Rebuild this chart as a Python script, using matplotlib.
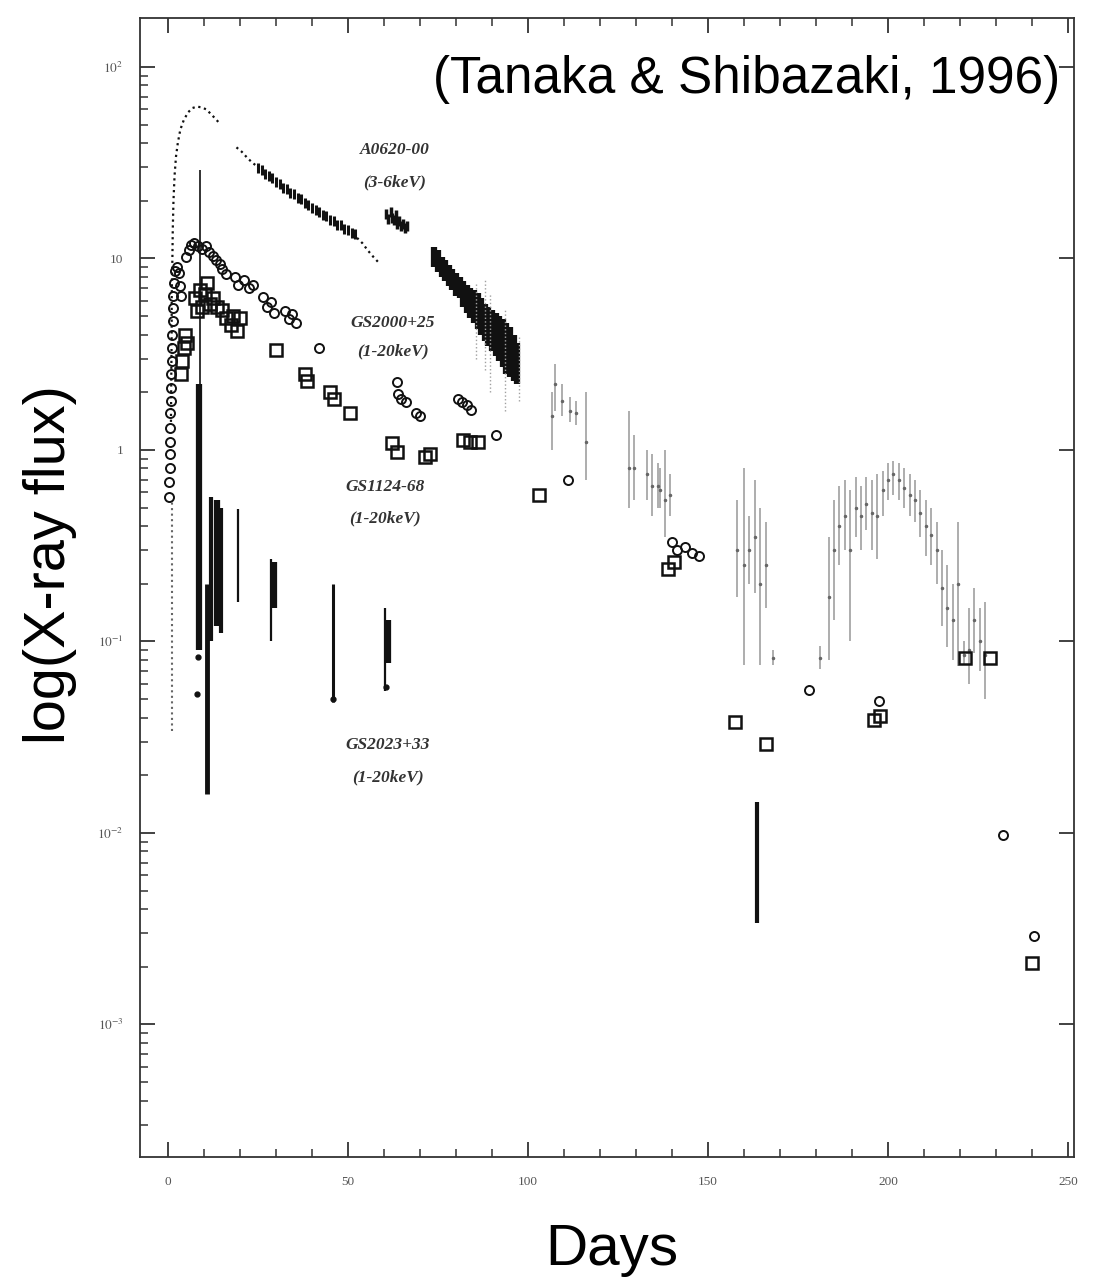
import numpy as np
import matplotlib
matplotlib.use("Agg")
import matplotlib.pyplot as plt
from matplotlib.ticker import FixedLocator, FixedFormatter, LogLocator, NullFormatter, MultipleLocator

plt.rcParams["mathtext.fontset"] = "stix"

# ---- A0620-00 (3-6 keV) ----
a0620_rise_day = [0.8, 0.9, 1.0, 1.0, 1.1, 1.2, 1.3, 1.5, 1.8, 2.2, 2.7, 3.4, 4.4, 5.6, 6.8, 8.0, 9.3, 10.6, 11.8, 13.0, 14.2]
a0620_rise_flux = [1.4, 2.5, 4.0, 6.0, 8.0, 10.0, 14.0, 20.0, 27.0, 34.0, 40.0, 47.0, 53.0, 58.0, 61.0, 62.0, 61.5, 60.0, 57.0, 54.0, 51.0]
a0620_tail_day = [19.0, 20.5, 22.0, 23.5, 25.0]
a0620_tail_flux = [38.0, 36.0, 33.5, 31.5, 30.0]
a0620_fade_day = [52.5, 54.0, 55.5, 57.0, 58.3]
a0620_fade_flux = [12.8, 12.0, 11.0, 10.2, 9.6]
a0620_day = [25, 26, 27, 28, 29, 30, 31, 32, 33, 34, 35, 36, 37, 38, 39, 40, 41, 42, 43, 44,
             45, 46, 47, 48, 49, 50, 51, 52]
a0620_flux = [29.5, 29.0, 27.6, 27.0, 26.2, 25.0, 24.6, 23.4, 23.0, 22.0, 21.6, 20.6, 20.3, 19.4,
              19.0, 18.4, 17.8, 17.5, 16.8, 16.6, 15.9, 15.6, 15.0, 14.9, 14.3, 14.1, 13.6, 13.4]
a0620_bump_day = [60.5, 61.2, 61.8, 62.3, 62.8, 63.2, 63.7, 64.2, 64.7, 65.2, 65.8, 66.3]
a0620_bump_flux = [17.0, 16.0, 17.5, 16.2, 15.8, 16.8, 15.2, 15.6, 14.8, 15.1, 14.4, 14.8]
# decay clump after day 73: columns of measurements (low, high)
a0620_clump_day = [74, 75, 76, 77, 78, 79, 80, 81, 82, 83, 84, 85, 86, 87, 88, 89, 90, 91, 92, 93, 94, 95, 96, 97]
a0620_clump_lo = [9.0, 8.5, 8.0, 7.6, 7.2, 6.8, 6.4, 6.2, 5.6, 5.2, 4.9, 4.6, 4.3, 4.0, 3.7, 3.5, 3.3, 3.1,
                  2.9, 2.7, 2.5, 2.4, 2.3, 2.2]
a0620_clump_hi = [11.5, 11.0, 10.2, 9.8, 9.2, 8.8, 8.4, 8.0, 7.6, 7.3, 7.0, 6.8, 6.6, 6.2, 5.8, 5.6, 5.4, 5.2,
                  5.0, 4.8, 4.6, 4.4, 4.0, 3.6]
a0620_stray_day = [85.5, 88.0, 89.5, 93.5, 97.5]
a0620_stray_lo = [3.0, 2.6, 2.0, 1.6, 1.8]
a0620_stray_hi = [7.5, 7.7, 6.5, 5.5, 4.0]
# later, sparser coverage
late_day = [106.7, 107.5, 109.4, 111.7, 113.3, 116.0, 128.0, 129.5, 133.0, 134.5, 136.0, 136.7, 138.0, 139.5,
            158.0, 160.0, 161.5, 163.0, 164.5, 166.0, 168.0, 181.0, 183.5, 185.0, 186.5, 188.0, 189.5,
            191.0, 192.5, 194.0, 195.5, 197.0, 198.5, 200.0, 201.5, 203.0, 204.5, 206.0, 207.5, 209.0,
            210.5, 212.0, 213.5, 215.0, 216.5, 218.0, 219.5, 221.0, 222.5, 224.0, 225.5, 227.0]
late_lo = [1.0, 1.6, 1.5, 1.4, 1.35, 0.7, 0.5, 0.55, 0.55, 0.45, 0.5, 0.5, 0.35, 0.45,
           0.17, 0.075, 0.2, 0.18, 0.075, 0.15, 0.075, 0.072, 0.08, 0.13, 0.25, 0.3, 0.1,
           0.35, 0.3, 0.38, 0.3, 0.27, 0.45, 0.55, 0.58, 0.55, 0.5, 0.45, 0.42, 0.35,
           0.28, 0.25, 0.2, 0.12, 0.094, 0.08, 0.074, 0.075, 0.06, 0.087, 0.07, 0.05]
late_hi = [2.0, 2.8, 2.2, 1.9, 1.8, 2.0, 1.6, 1.2, 1.0, 0.95, 0.85, 0.8, 1.0, 0.75,
           0.55, 0.8, 0.45, 0.7, 0.5, 0.42, 0.09, 0.095, 0.35, 0.55, 0.65, 0.7, 0.62,
           0.72, 0.65, 0.72, 0.7, 0.75, 0.78, 0.85, 0.88, 0.85, 0.8, 0.75, 0.7, 0.62,
           0.55, 0.5, 0.42, 0.3, 0.25, 0.2, 0.42, 0.1, 0.15, 0.19, 0.15, 0.16]
late_mid = [1.5, 2.2, 1.8, 1.6, 1.55, 1.1, 0.8, 0.8, 0.75, 0.65, 0.65, 0.62, 0.55, 0.58,
            0.3, 0.25, 0.3, 0.35, 0.2, 0.25, 0.082, 0.082, 0.17, 0.3, 0.4, 0.45, 0.3,
            0.5, 0.45, 0.52, 0.47, 0.45, 0.62, 0.7, 0.75, 0.7, 0.63, 0.58, 0.55, 0.47,
            0.4, 0.36, 0.3, 0.19, 0.15, 0.13, 0.2, 0.085, 0.09, 0.13, 0.1, 0.085]

# ---- GS2000+25 (1-20 keV), open circles ----
gs2000_day = [0.3, 0.35, 0.4, 0.45, 0.5, 0.55, 0.6, 0.7, 0.8, 0.9, 1.0, 1.1, 1.2, 1.3, 1.4, 1.5, 1.6,
              1.8, 2.4, 3.0, 3.2, 3.5,
              5.0, 5.8, 6.5, 7.3, 8.3, 9.3, 10.5, 11.5, 12.5, 13.4, 14.3, 15.1, 16.0,
              18.5, 19.5, 21.0, 22.5, 23.5, 26.5, 27.5, 28.5, 29.5, 32.5, 33.5, 34.5, 35.5, 42.0,
              63.5, 63.8, 64.8, 66.0, 69.0, 70.0, 80.5, 81.8, 83.0, 84.3, 91.2, 111.0,
              140.0, 141.5, 143.5, 145.5, 147.5, 178.0, 197.5, 232.0, 240.5]
gs2000_flux = [0.57, 0.68, 0.8, 0.95, 1.1, 1.3, 1.55, 1.8, 2.1, 2.5, 2.9, 3.4, 4.0, 4.7, 5.5, 6.4, 7.4,
               8.6, 9.0, 8.4, 7.2, 6.4,
               10.2, 11.0, 11.8, 12.1, 11.6, 11.2, 11.6, 10.8, 10.3, 9.8, 9.3, 8.8, 8.3,
               8.0, 7.3, 7.7, 7.0, 7.3, 6.3, 5.6, 5.9, 5.2, 5.3, 4.8, 5.1, 4.6, 3.4,
               2.25, 1.95, 1.85, 1.78, 1.56, 1.5, 1.85, 1.78, 1.72, 1.62, 1.2, 0.70,
               0.33, 0.30, 0.31, 0.29, 0.28, 0.056, 0.049, 0.0098, 0.0029]

# ---- GS1124-68 (1-20 keV), open squares ----
gs1124_day = [3.5, 3.9, 4.3, 4.7, 5.3,
              7.5, 8.0, 8.8, 9.4, 10.3, 10.8, 11.6, 12.5, 13.6, 15.0, 16.2, 17.5, 18.0, 19.2, 20.0,
              30.0, 38.0, 38.5, 45.0, 46.0, 50.5, 62.2, 63.6, 71.3, 72.8, 82.0, 84.0, 86.0, 103.0,
              138.8, 140.5, 157.5, 166.0, 196.0, 197.8, 221.5, 228.5, 240.0]
gs1124_flux = [2.5, 2.9, 3.4, 4.0, 3.6,
               6.2, 5.3, 6.8, 5.6, 6.5, 7.4, 5.8, 6.2, 5.6, 5.4, 4.9, 4.5, 5.0, 4.2, 4.9,
               3.33, 2.5, 2.3, 2.0, 1.85, 1.56, 1.09, 0.98, 0.92, 0.95, 1.13, 1.10, 1.10, 0.58,
               0.24, 0.26, 0.038, 0.029, 0.039, 0.041, 0.082, 0.082, 0.0021]

# ---- GS2023+33 (1-20 keV), dense columns of points ----
gs2023_day = [8.5, 9.0, 10.9, 12.0, 13.5, 14.8, 19.5, 28.5, 29.3, 45.8, 60.2, 61.0, 163.5]
gs2023_lo = [0.09, 2.2, 0.016, 0.10, 0.12, 0.11, 0.16, 0.10, 0.15, 0.048, 0.055, 0.077, 0.0034]
gs2023_hi = [2.2, 29.0, 0.20, 0.57, 0.55, 0.50, 0.49, 0.27, 0.26, 0.20, 0.15, 0.13, 0.0145]
gs2023_lw = [4.5, 1.2, 3.5, 3.0, 4.5, 3.0, 1.6, 1.6, 4.5, 2.2, 1.6, 4.5, 3.0]
gs2023_rise_day = [1.2]
gs2023_rise_lo = [0.034]
gs2023_rise_hi = [0.55]
gs2023_dot_day = [8.0, 8.3, 45.9, 60.5]
gs2023_dot_flux = [0.053, 0.083, 0.05, 0.058]

# curve labels
labels = [("A0620-00", 63.0, 36.9), ("(3-6keV)", 63.0, 24.8),
          ("GS2000+25", 62.5, 4.6), ("(1-20keV)", 62.5, 3.25),
          ("GS1124-68", 60.3, 0.64), ("(1-20keV)", 60.3, 0.44),
          ("GS2023+33", 61.1, 0.0288), ("(1-20keV)", 61.1, 0.0196)]

W, H = 1110, 1278
fig = plt.figure(figsize=(W / 100, H / 100), dpi=100)
ax = fig.add_axes([140 / W, 1 - 1157 / H, (1074 - 140) / W, (1157 - 18) / H])
ax.set_yscale("log")
ax.set_xlim(-7.8, 251.7)
ax.set_ylim(2.03e-4, 180)

ink = "#111111"
grey = "#a0a0a0"

# A0620-00
ax.plot(a0620_rise_day, a0620_rise_flux, ls=":", lw=1.6, color=ink)
ax.plot(a0620_tail_day, a0620_tail_flux, ls=":", lw=1.6, color=ink)
ax.plot(a0620_fade_day, a0620_fade_flux, ls=":", lw=1.6, color=ink)
ax.plot(a0620_day, a0620_flux, ls="none", marker="|", ms=7, mew=2.2, color=ink)
ax.plot(a0620_bump_day, a0620_bump_flux, ls="none", marker="|", ms=7, mew=2.5, color=ink)
ax.vlines(a0620_clump_day, a0620_clump_lo, a0620_clump_hi, lw=4.5, color=ink)
ax.vlines(a0620_stray_day, a0620_stray_lo, a0620_stray_hi, lw=1, color=grey, linestyles=":")
ax.vlines(late_day, late_lo, late_hi, lw=1.2, color=grey)
ax.plot(late_day, late_mid, ls="none", marker=".", ms=3, color="#666666")

# GS2023+33
ax.vlines(gs2023_day, gs2023_lo, gs2023_hi, lw=gs2023_lw, color=ink)
ax.vlines(gs2023_rise_day, gs2023_rise_lo, gs2023_rise_hi, lw=1.5, color="#666666", linestyles=":")
ax.plot(gs2023_dot_day, gs2023_dot_flux, ls="none", marker="o", ms=3.5, color=ink)

# GS2000+25 and GS1124-68
ax.plot(gs2000_day, gs2000_flux, ls="none", marker="o", ms=6.5, mfc="none", mec=ink, mew=1.4)
ax.plot(gs1124_day, gs1124_flux, ls="none", marker="s", ms=9, mfc="none", mec=ink, mew=1.8)

for txt, d, f in labels:
    ax.text(d, f, txt, ha="center", va="center", fontsize=12.5, style="italic",
            fontweight="bold", family="Liberation Serif", color="#333333")

# frame and ticks
for s in ax.spines.values():
    s.set_color("#333333")
    s.set_linewidth(1.3)
ax.xaxis.set_major_locator(MultipleLocator(50))
ax.xaxis.set_minor_locator(MultipleLocator(10))
ax.yaxis.set_major_locator(FixedLocator([1e-3, 1e-2, 1e-1, 1, 10, 100]))
ax.yaxis.set_major_formatter(FixedFormatter(["$10^{-3}$", "$10^{-2}$", "$10^{-1}$", "1", "10", "$10^{2}$"]))
ax.yaxis.set_minor_locator(LogLocator(base=10, subs=np.arange(2, 10), numticks=20))
ax.yaxis.set_minor_formatter(NullFormatter())
ax.tick_params(which="both", direction="in", top=True, right=True, colors="#333333",
               labelcolor="#555555", labelsize=9.5)
ax.tick_params(axis="y", which="minor", right=False)
ax.tick_params(which="major", length=11, width=1.3, pad=12)
ax.tick_params(which="minor", length=6, width=1.1)
ax.tick_params(axis="x", which="major", pad=14)
for t in ax.get_xticklabels() + ax.get_yticklabels():
    t.set_family("Liberation Serif")

fig.text(1060 / W, 1 - 80 / H, "(Tanaka & Shibazaki, 1996)", ha="right", va="center",
         fontsize=37, family="Liberation Sans")
fig.text(50 / W, 1 - 565 / H, "log(X-ray flux)", ha="center", va="center", rotation=90,
         fontsize=41.5, family="Liberation Sans")
fig.text(612 / W, 1 - 1250 / H, "Days", ha="center", va="center", fontsize=42,
         family="Liberation Sans")

fig.savefig("out.png", dpi=100, facecolor="white")
